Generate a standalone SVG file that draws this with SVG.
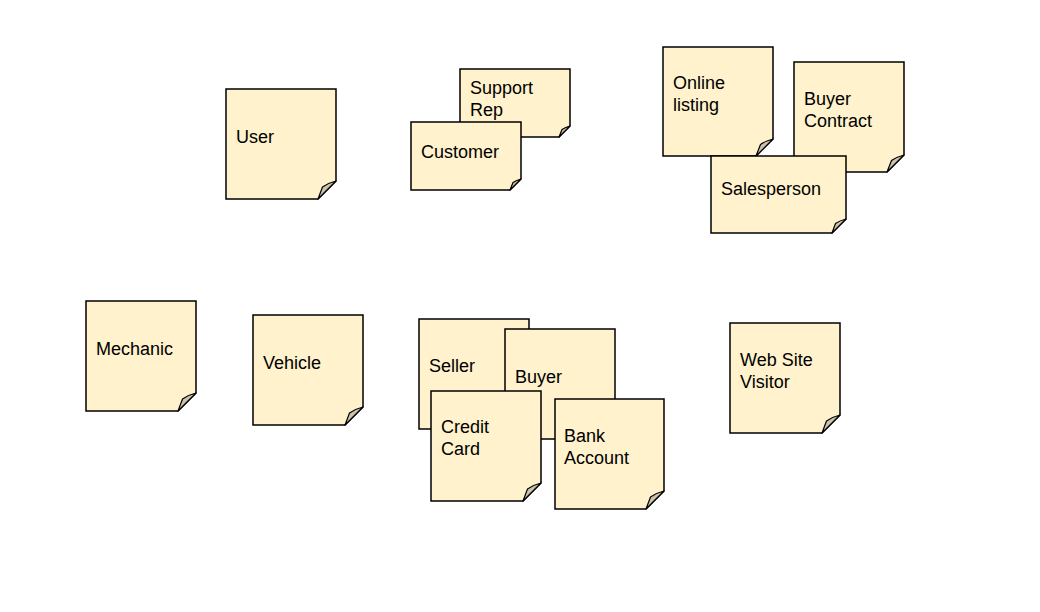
<svg xmlns="http://www.w3.org/2000/svg" width="1040" height="612" viewBox="0 0 1040 612">
  <style>
    .note { fill: #fff2cc; stroke: #000; stroke-width: 1.5; stroke-linejoin: miter; }
    .fold { fill: #cbc3aa; stroke: #000; stroke-width: 1.2; stroke-linejoin: round; }
    .label { font-family: "Liberation Sans", Arial, sans-serif; font-size: 18px; fill: #000; }
  </style>
  <rect width="1040" height="612" fill="#ffffff"/>

  <!-- Sticky notes: outline with clipped bottom-right corner, plus a curled fold -->
  <g id="note-user">
    <path class="note" d="M226,89 H336 V181 L318,199 H226 Z"/>
    <path class="fold" d="M318,199 L322.5,187 Q328,183 336,181 Z"/>
    <text class="label" x="236" y="143">User</text>
  </g>

  <g id="note-support-rep">
    <path class="note" d="M460,69 H570 V126 L559,137 H460 Z"/>
    <path class="fold" d="M559,137 L562,129.5 Q565.5,127.2 570,126 Z"/>
    <text class="label" x="470" y="94">Support</text>
    <text class="label" x="470" y="116">Rep</text>
  </g>

  <g id="note-customer">
    <path class="note" d="M411,122 H521 V179 L510,190 H411 Z"/>
    <path class="fold" d="M510,190 L513,182.5 Q516.5,180.2 521,179 Z"/>
    <text class="label" x="421" y="158">Customer</text>
  </g>

  <g id="note-online-listing">
    <path class="note" d="M663,47 H773 V139 L756,156 H663 Z"/>
    <path class="fold" d="M756,156 L760.5,144.5 Q765.5,141 773,139 Z"/>
    <text class="label" x="673" y="89">Online</text>
    <text class="label" x="673" y="111">listing</text>
  </g>

  <g id="note-buyer-contract">
    <path class="note" d="M794,62 H904 V155 L887,172 H794 Z"/>
    <path class="fold" d="M887,172 L891.5,160.5 Q896.5,157 904,155 Z"/>
    <text class="label" x="804" y="105">Buyer</text>
    <text class="label" x="804" y="127">Contract</text>
  </g>

  <g id="note-salesperson">
    <path class="note" d="M711,156 H846 V219 L832,233 H711 Z"/>
    <path class="fold" d="M832,233 L835.5,223.5 Q840,220.5 846,219 Z"/>
    <text class="label" x="721" y="195">Salesperson</text>
  </g>

  <g id="note-mechanic">
    <path class="note" d="M86,301 H196 V393 L178,411 H86 Z"/>
    <path class="fold" d="M178,411 L182.5,399 Q188,395 196,393 Z"/>
    <text class="label" x="96" y="355">Mechanic</text>
  </g>

  <g id="note-vehicle">
    <path class="note" d="M253,315 H363 V407 L345,425 H253 Z"/>
    <path class="fold" d="M345,425 L349.5,413 Q355,409 363,407 Z"/>
    <text class="label" x="263" y="369">Vehicle</text>
  </g>

  <g id="note-seller">
    <path class="note" d="M419,319 H529 V411 L511,429 H419 Z"/>
    <path class="fold" d="M511,429 L515.5,417 Q521,413 529,411 Z"/>
    <text class="label" x="429" y="372">Seller</text>
  </g>

  <g id="note-buyer">
    <path class="note" d="M505,329 H615 V421 L597,439 H505 Z"/>
    <path class="fold" d="M597,439 L601.5,427 Q607,423 615,421 Z"/>
    <text class="label" x="515" y="383">Buyer</text>
  </g>

  <g id="note-credit-card">
    <path class="note" d="M431,391 H541 V483 L523,501 H431 Z"/>
    <path class="fold" d="M523,501 L527.5,489 Q533,485 541,483 Z"/>
    <text class="label" x="441" y="433">Credit</text>
    <text class="label" x="441" y="455">Card</text>
  </g>

  <g id="note-bank-account">
    <path class="note" d="M555,399 H664 V491 L646,509 H555 Z"/>
    <path class="fold" d="M646,509 L650.5,497 Q656,493 664,491 Z"/>
    <text class="label" x="564" y="442">Bank</text>
    <text class="label" x="564" y="464">Account</text>
  </g>

  <g id="note-web-site-visitor">
    <path class="note" d="M730,323 H840 V415 L822,433 H730 Z"/>
    <path class="fold" d="M822,433 L826.5,421 Q832,417 840,415 Z"/>
    <text class="label" x="740" y="366">Web Site</text>
    <text class="label" x="740" y="388">Visitor</text>
  </g>

  <!-- no connectors in this board -->
  <g id="connectors"/>
</svg>
